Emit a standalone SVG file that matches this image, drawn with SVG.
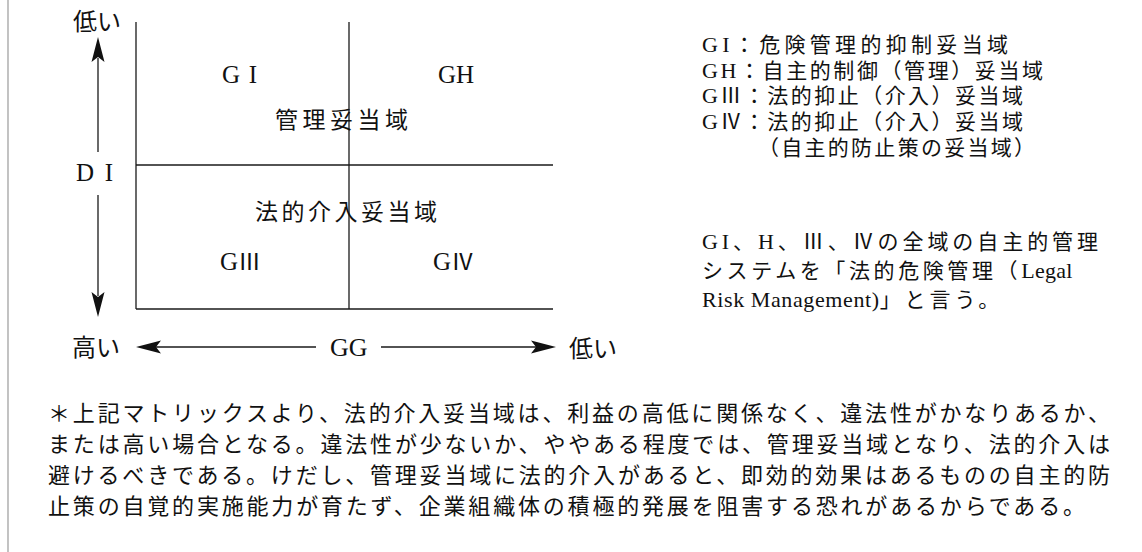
<svg xmlns="http://www.w3.org/2000/svg" width="1142" height="552" viewBox="0 0 1142 552">
<style>
.jp{font-family:"Noto Sans CJK JP","Liberation Serif",sans-serif;fill:#111;}
.lat{font-family:"Liberation Serif","Noto Sans CJK JP",serif;fill:#111;}
.ln{stroke:#1a1a1a;stroke-width:1.3;fill:none;}
.ah{fill:#111;stroke:none;}
.lg{font-size:21px;}
.lgl{font-family:"Liberation Serif",serif;font-size:22px;}
</style>
<rect width="1142" height="552" fill="#fff"/>
<line x1="8" y1="0" x2="8" y2="552" stroke="#9a9a9a" stroke-width="1.2"/>

<g id="matrix">
<line class="ln" x1="136" y1="22" x2="136" y2="309"/>
<line class="ln" x1="349" y1="22" x2="349" y2="309"/>
<line class="ln" x1="136" y1="165" x2="553" y2="165"/>
<line class="ln" x1="136" y1="309" x2="553" y2="309"/>
</g>

<g id="q1"><text class="lat" x="222" y="83" font-size="25" textLength="35" lengthAdjust="spacing">G I</text></g>
<g id="q2"><text class="lat" x="438" y="83" font-size="25">GH</text></g>
<g id="zone-mgmt"><text class="jp" x="275" y="128" font-size="23" textLength="133" lengthAdjust="spacing">管理妥当域</text></g>
<g id="zone-legal"><text class="jp" x="255" y="220" font-size="23" textLength="182" lengthAdjust="spacing">法的介入妥当域</text></g>
<g id="q3"><text class="lat" x="220" y="270" font-size="25">G<tspan class="jp" font-size="23">Ⅲ</tspan></text></g>
<g id="q4"><text class="lat" x="433" y="270" font-size="25">G<tspan class="jp" font-size="23">Ⅳ</tspan></text></g>

<g id="axis-labels">
<text class="jp" x="73" y="30" font-size="24">低い</text>
<text class="lat" x="76" y="181" font-size="25" textLength="37" lengthAdjust="spacing">D I</text>
<text class="jp" x="72" y="356" font-size="24">高い</text>
<text class="lat" x="330" y="356" font-size="26">GG</text>
<text class="jp" x="569" y="357" font-size="24">低い</text>
</g>

<g id="connectors">
<line class="ln" x1="98" y1="58" x2="98" y2="152"/>
<path class="ah" d="M98,37 L104.5,62 L98,57 L91.5,62 Z"/>
<line class="ln" x1="98" y1="195" x2="98" y2="296"/>
<path class="ah" d="M98,317 L104.5,292 L98,297 L91.5,292 Z"/>
<line class="ln" x1="156" y1="347" x2="316" y2="347"/>
<path class="ah" d="M136,347 L161,340.5 L156,347 L161,353.5 Z"/>
<line class="ln" x1="381" y1="347" x2="536" y2="347"/>
<path class="ah" d="M556,347 L531,340.5 L536,347 L531,353.5 Z"/>
</g>

<g id="legend">
<text class="jp lg" x="702" y="52" textLength="306" lengthAdjust="spacing"><tspan class="lgl">GI</tspan>：危険管理的抑制妥当域</text>
<text class="jp lg" x="702" y="78" textLength="341" lengthAdjust="spacing"><tspan class="lgl">GH</tspan>：自主的制御（管理）妥当域</text>
<text class="jp lg" x="702" y="103" textLength="321" lengthAdjust="spacing"><tspan class="lgl">G</tspan>Ⅲ：法的抑止（介入）妥当域</text>
<text class="jp lg" x="702" y="129" textLength="321" lengthAdjust="spacing"><tspan class="lgl">G</tspan>Ⅳ：法的抑止（介入）妥当域</text>
<text class="jp lg" x="758" y="155" textLength="277" lengthAdjust="spacing">（自主的防止策の妥当域）</text>
<text class="jp lg" x="702" y="249" textLength="396" lengthAdjust="spacing"><tspan class="lgl">GI</tspan>、<tspan class="lgl">H</tspan>、Ⅲ、Ⅳの全域の自主的管理</text>
<text class="jp lg" x="702" y="278" letter-spacing="3.6">システムを「法的危険管理（<tspan class="lgl" letter-spacing="0.3">Legal</tspan></text>
<text class="jp lg" x="702" y="307"><tspan class="lgl" font-size="23px" letter-spacing="0.6">Risk Management)</tspan><tspan letter-spacing="4">」と言う。</tspan></text>
</g>

<g id="note">
<text class="jp" x="48" y="421" font-size="22" textLength="1062" lengthAdjust="spacing">＊上記マトリックスより、法的介入妥当域は、利益の高低に関係なく、違法性がかなりあるか、</text>
<text class="jp" x="48" y="452" font-size="22" textLength="1062" lengthAdjust="spacing">または高い場合となる。違法性が少ないか、ややある程度では、管理妥当域となり、法的介入は</text>
<text class="jp" x="48" y="483" font-size="22" textLength="1062" lengthAdjust="spacing">避けるべきである。けだし、管理妥当域に法的介入があると、即効的効果はあるものの自主的防</text>
<text class="jp" x="48" y="514" font-size="22" textLength="1037" lengthAdjust="spacing">止策の自覚的実施能力が育たず、企業組織体の積極的発展を阻害する恐れがあるからである。</text>
</g>
</svg>
